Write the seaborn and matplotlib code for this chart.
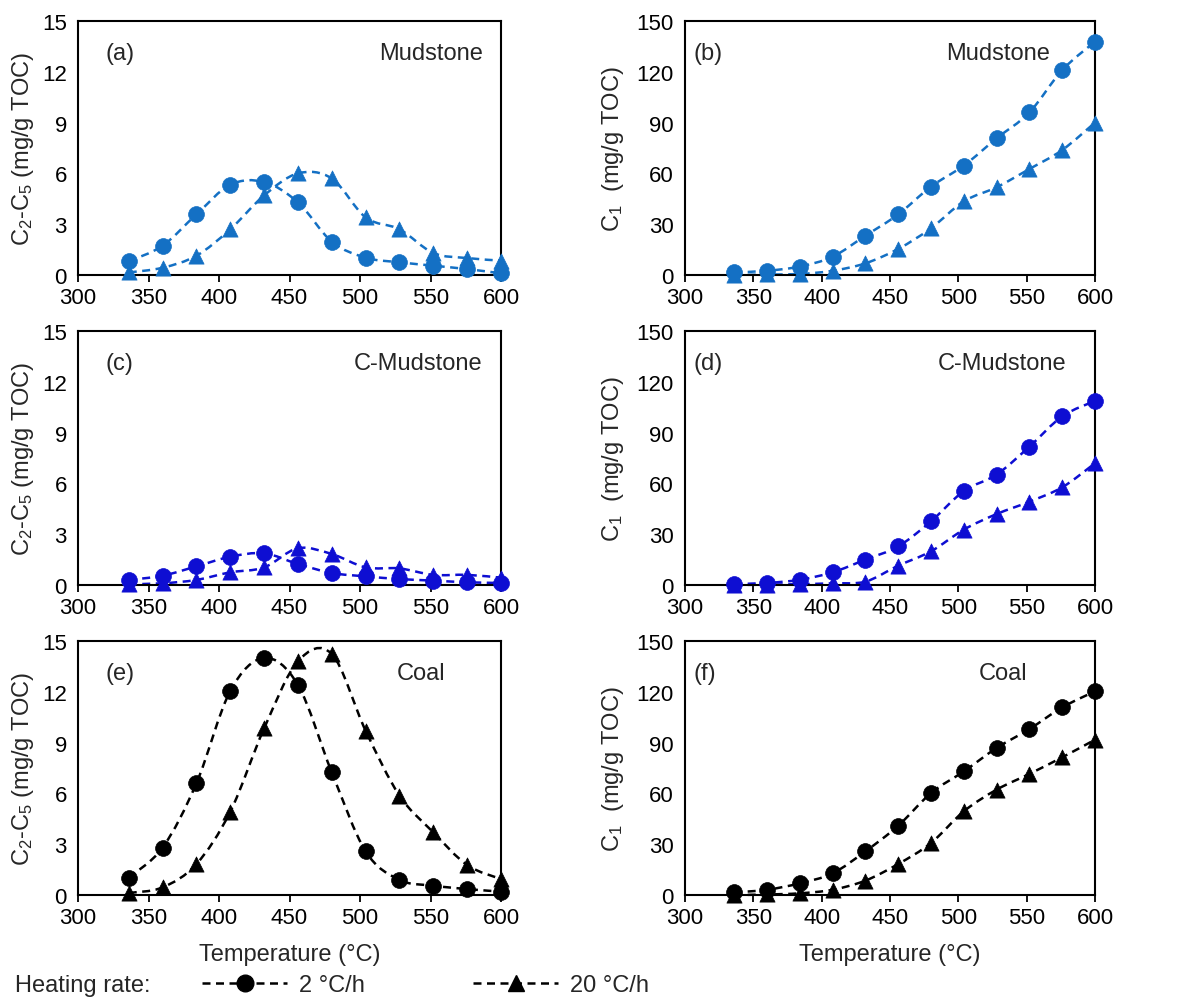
import numpy as np
import pandas as pd
import matplotlib
matplotlib.use("Agg")
import matplotlib.pyplot as plt
import seaborn as sns
from matplotlib.path import Path
from matplotlib.patches import PathPatch
from matplotlib.lines import Line2D

# ---------------- data ----------------
temperature = [336, 360, 384, 408, 432, 456, 480, 504, 528, 552, 576, 600]

mud_c25_slow = [0.81, 1.73, 3.58, 5.33, 5.49, 4.29, 1.97, 1.02, 0.75, 0.55, 0.35, 0.10]
mud_c25_fast = [0.15, 0.43, 1.14, 2.70, 4.70, 6.00, 5.70, 3.40, 2.70, 1.30, 1.00, 0.85]
mud_c1_slow = [1.5, 2.5, 5.0, 10.8, 23.2, 35.8, 52.2, 64.6, 80.7, 96.0, 121.0, 137.8]
mud_c1_fast = [0.0, 0.3, 0.6, 2.5, 6.9, 15.4, 27.6, 43.5, 51.8, 62.6, 73.8, 90.0]

cmud_c25_slow = [0.30, 0.55, 1.10, 1.67, 1.87, 1.24, 0.71, 0.51, 0.35, 0.26, 0.16, 0.12]
cmud_c25_fast = [0.05, 0.10, 0.30, 0.75, 1.04, 2.17, 1.83, 1.04, 0.98, 0.60, 0.60, 0.43]
cmud_c1_slow = [0.6, 1.2, 3.1, 7.5, 15.0, 22.8, 37.6, 55.5, 65.2, 81.7, 99.6, 108.7]
cmud_c1_fast = [0.0, 0.2, 0.5, 1.0, 2.0, 11.4, 19.9, 32.7, 41.9, 49.2, 57.7, 71.9]

coal_c25_slow = [1.02, 2.80, 6.60, 12.05, 14.00, 12.40, 7.24, 2.58, 0.89, 0.55, 0.35, 0.20]
coal_c25_fast = [0.12, 0.45, 1.83, 4.92, 9.84, 13.80, 14.23, 9.70, 5.87, 3.70, 1.77, 0.94]
coal_c1_slow = [1.5, 3.1, 6.9, 12.8, 25.8, 40.9, 60.2, 73.0, 86.8, 98.0, 110.8, 120.3]
coal_c1_fast = [0.0, 0.3, 1.0, 3.1, 8.5, 18.3, 30.7, 49.4, 62.2, 71.5, 81.3, 91.7]

panel_letters = ["(a)", "(b)", "(c)", "(d)", "(e)", "(f)"]
sample_names = ["Mudstone", "Mudstone", "C-Mudstone", "C-Mudstone", "Coal", "Coal"]
rate_labels = ["2 \u00b0C/h", "20 \u00b0C/h"]
x_ticks = [300, 350, 400, 450, 500, 550, 600]
c25_ticks = [0, 3, 6, 9, 12, 15]
c1_ticks = [0, 30, 60, 90, 120, 150]

# ---------------- style ----------------
sns.set_theme(style="white")
plt.rcParams["font.family"] = ["Liberation Sans", "DejaVu Sans"]
plt.rcParams["mathtext.fontset"] = "custom"
plt.rcParams["mathtext.rm"] = "Liberation Sans"
plt.rcParams["mathtext.it"] = "Liberation Sans:italic"
plt.rcParams["mathtext.bf"] = "Liberation Sans:bold"

W, H = 1181, 1004
fig = plt.figure(figsize=(W / 100, H / 100), dpi=100)

blue1 = "#1470C4"
blue2 = "#0E0ED2"
black = "#000000"

panels = [
    (mud_c25_slow, mud_c25_fast, blue1, "c25"),
    (mud_c1_slow, mud_c1_fast, blue1, "c1"),
    (cmud_c25_slow, cmud_c25_fast, blue2, "c25"),
    (cmud_c1_slow, cmud_c1_fast, blue2, "c1"),
    (coal_c25_slow, coal_c25_fast, black, "c25"),
    (coal_c1_slow, coal_c1_fast, black, "c1"),
]

# axes boxes in pixels (left, top, right, bottom)
col_px = [(78, 501), (685, 1095)]
row_px = [(22, 276), (332, 586), (642, 896)]
name_x = [0.957, 0.89, 0.957, 0.93, 0.868, 0.834]

dash = (0, (3.2, 2.2))
FS = 17


def smooth_path(x, y):
    pts = np.column_stack([x, y]).astype(float)
    n = len(pts)
    verts = [pts[0]]
    codes = [Path.MOVETO]
    for i in range(n - 1):
        p0 = pts[i - 1] if i > 0 else pts[i]
        p1 = pts[i]
        p2 = pts[i + 1]
        p3 = pts[i + 2] if i + 2 < n else pts[i + 1]
        c1 = p1 + (p2 - p0) / 6.0
        c2 = p2 - (p3 - p1) / 6.0
        verts += [c1, c2, p2]
        codes += [Path.CURVE4] * 3
    return Path(verts, codes)


for k, (slow, fast, color, kind) in enumerate(panels):
    r, c = divmod(k, 2)
    l, rr = col_px[c]
    t, b = row_px[r]
    ax = fig.add_axes([l / W, 1 - b / H, (rr - l) / W, (b - t) / H])

    df = pd.DataFrame({"T": temperature, "slow": slow, "fast": fast})
    for col, mk, sz in [("slow", "o", 130), ("fast", "^", 120)]:
        patch = PathPatch(smooth_path(df["T"], df[col]), fill=False,
                          edgecolor=color, lw=1.8, linestyle=dash, zorder=2)
        patch.set_clip_on(False)
        ax.add_patch(patch)
        sns.scatterplot(data=df, x="T", y=col, marker=mk, s=sz, color=color,
                        edgecolor=color, linewidth=0.5, ax=ax, zorder=3,
                        legend=False)
        ax.collections[-1].set_clip_on(False)

    ax.set_xlim(300, 600)
    ax.set_xticks(x_ticks)
    if kind == "c25":
        ax.set_ylim(0, 15)
        ax.set_yticks(c25_ticks)
        ax.set_ylabel("C$_2$-C$_5$ (mg/g TOC)", fontsize=FS)
    else:
        ax.set_ylim(0, 150)
        ax.set_yticks(c1_ticks)
        ax.set_ylabel("C$_1$  (mg/g TOC)", fontsize=FS)
    ax.yaxis.label.set_va("center")
    ax.yaxis.set_label_coords((23 + 590 * c - l) / (rr - l), 0.5)

    if r == 2:
        ax.set_xlabel("Temperature (\u00b0C)", fontsize=FS)
        ax.xaxis.label.set_va("center")
        ax.xaxis.set_label_coords(0.5, -(955 - b) / (b - t))
    else:
        ax.set_xlabel("")

    for s in ax.spines.values():
        s.set_color("black")
        s.set_linewidth(1.5)
    ax.tick_params(axis="both", direction="out", length=5, width=1.3,
                   colors="black", labelsize=16, pad=4)
    ax.tick_params(axis="y", length=0, pad=8)
    ax.tick_params(axis="x", bottom=True)

    lx = 0.064 if c == 0 else 0.02
    ax.text(lx, 0.875, panel_letters[k], transform=ax.transAxes,
            fontsize=FS, ha="left", va="center")
    ax.text(name_x[k], 0.875, sample_names[k], transform=ax.transAxes,
            fontsize=FS, ha="right", va="center")

# ---------------- legend ----------------
ly = 1 - 986 / H
fig.text(15 / W, ly, "Heating rate:", fontsize=FS, ha="left", va="center")
handles = [
    Line2D([], [], color="black", lw=1.8, linestyle=dash, marker="o", ms=12),
    Line2D([], [], color="black", lw=1.8, linestyle=dash, marker="^", ms=12),
]
fig.legend(handles=handles, labels=rate_labels, ncol=2, loc="center left",
           bbox_to_anchor=(202 / W, ly), frameon=False, fontsize=FS,
           handlelength=3.6, handletextpad=0.5, columnspacing=4.6,
           borderaxespad=0, borderpad=0)

fig.savefig("out.png", dpi=100)
